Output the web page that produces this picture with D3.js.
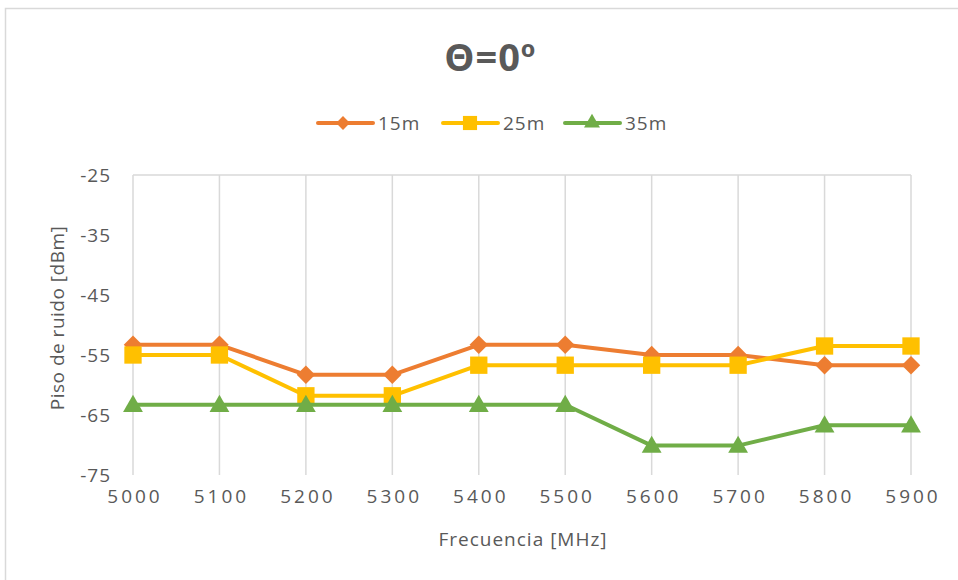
<!DOCTYPE html>
<html>
<head>
<meta charset="utf-8">
<script src="https://cdn.jsdelivr.net/npm/d3@7"></script>
<style>
  html, body { margin: 0; padding: 0; background: #fff; }
  svg { display: block; }
  text { font-family: "Open Sans", "DejaVu Sans", sans-serif; fill: #595959; }
</style>
</head>
<body>
<svg id="chart" width="958" height="580"></svg>
<script>
// Frequencies (MHz) on the category axis
const frequencies = [5000, 5100, 5200, 5300, 5400, 5500, 5600, 5700, 5800, 5900];
// Noise floor (dBm) per distance
const noise15m = [-53.3, -53.3, -58.3, -58.3, -53.3, -53.3, -55.0, -55.0, -56.7, -56.7];
const noise25m = [-55.0, -55.0, -61.8, -61.8, -56.7, -56.7, -56.7, -56.7, -53.5, -53.5];
const noise35m = [-63.3, -63.3, -63.3, -63.3, -63.3, -63.3, -70.1, -70.1, -66.7, -66.7];
const yTicks = [-25, -35, -45, -55, -65, -75];
const seriesNames = ["15m", "25m", "35m"];

const series = [
  { name: seriesNames[0], values: noise15m, color: "#ED7D31", shape: "diamond" },
  { name: seriesNames[1], values: noise25m, color: "#FFC000", shape: "square" },
  { name: seriesNames[2], values: noise35m, color: "#70AD47", shape: "triangle" }
];

const svg = d3.select("#chart");

// outer frame
svg.append("path")
  .attr("d", "M5.5,600 L5.5,8.5 L980,8.5")
  .attr("fill", "none").attr("stroke", "#d9d9d9").attr("stroke-width", 1.5);

const x = d3.scalePoint().domain(frequencies).range([133, 911]);
const y = d3.scaleLinear().domain([-75, -25]).range([475, 175]);

// vertical gridlines
svg.append("g").selectAll("line").data(frequencies).join("line")
  .attr("x1", d => x(d)).attr("x2", d => x(d))
  .attr("y1", y(-25)).attr("y2", y(-75))
  .attr("stroke", "#d9d9d9").attr("stroke-width", 1.5);
// top border of the plot
svg.append("line")
  .attr("x1", x(frequencies[0])).attr("x2", x(frequencies[frequencies.length - 1]))
  .attr("y1", y(-25)).attr("y2", y(-25))
  .attr("stroke", "#d9d9d9").attr("stroke-width", 1.5);

// y axis labels (plain hyphen for negatives)
const yAxis = d3.axisLeft(y).tickValues(yTicks).tickFormat(d => String(d)).tickSize(0).tickPadding(0);
const gy = svg.append("g").attr("transform", "translate(111,0)").call(yAxis);
gy.select(".domain").remove();
gy.selectAll("text")
  .attr("font-family", null).style("font-size", "19px").attr("fill", null)
  .attr("letter-spacing", "1px").attr("dy", "0.36em");

// x axis labels
const xAxis = d3.axisBottom(x).tickFormat(d => String(d)).tickSize(0).tickPadding(0);
const gx = svg.append("g").attr("transform", "translate(1.5,489)").call(xAxis);
gx.select(".domain").remove();
gx.selectAll("text")
  .attr("font-family", null).style("font-size", "19px").attr("fill", null)
  .attr("letter-spacing", "3px").attr("dy", "0.71em");

// axis titles
svg.append("text").attr("x", 523).attr("y", 546).attr("text-anchor", "middle")
  .style("font-size", "19px").attr("letter-spacing", "1px").text("Frecuencia [MHz]");
svg.append("text").attr("transform", "translate(64,318) rotate(-90)")
  .attr("text-anchor", "middle").style("font-size", "19px").attr("letter-spacing", "0.5px")
  .text("Piso de ruido [dBm]");

// chart title; the ordinal sign uses a face that draws its underline
const title = svg.append("text").attr("x", 490).attr("y", 71).attr("text-anchor", "middle")
  .style("font-size", "38px").style("font-weight", "bold").attr("letter-spacing", "1px");
title.append("tspan").text("Θ=0");
title.append("tspan").style("font-family", "'Liberation Sans', sans-serif").text("º");

// symmetric diamond: a square turned 45°
const rotatedSquare = {
  draw(ctx, size) {
    const r = Math.sqrt(size / 2);
    ctx.moveTo(0, -r); ctx.lineTo(r, 0); ctx.lineTo(0, r); ctx.lineTo(-r, 0); ctx.closePath();
  }
};
const symbolType = { diamond: rotatedSquare, square: d3.symbolSquare, triangle: d3.symbolTriangle };
const markerSize = { diamond: 170, square: 300, triangle: 170 };
const legendSize = { diamond: 95, square: 200, triangle: 110 };

const line = d3.line().x((d, i) => x(frequencies[i])).y(d => y(d));

series.forEach(s => {
  const g = svg.append("g");
  g.append("path").datum(s.values)
    .attr("d", line).attr("fill", "none")
    .attr("stroke", s.color).attr("stroke-width", 4).attr("stroke-linejoin", "round");
  g.selectAll("path.m").data(s.values).join("path").attr("class", "m")
    .attr("d", d3.symbol().type(symbolType[s.shape]).size(markerSize[s.shape]))
    .attr("transform", (d, i) => `translate(${x(frequencies[i])},${y(d) + (s.shape === "triangle" ? 1.5 : 0)})`)
    .attr("fill", s.color);
});

// legend
const legendX = [318, 443, 565];
series.forEach((s, i) => {
  const g = svg.append("g").attr("transform", `translate(${legendX[i]},123)`);
  g.append("line").attr("x1", 0).attr("x2", 55).attr("y1", 0).attr("y2", 0)
    .attr("stroke", s.color).attr("stroke-width", 4).attr("stroke-linecap", "round");
  g.append("path")
    .attr("d", d3.symbol().type(symbolType[s.shape]).size(legendSize[s.shape]))
    .attr("transform", `translate(${i === 0 ? 25 : 27},0)`)
    .attr("fill", s.color);
  g.append("text").attr("x", 60).attr("y", 0).attr("dy", "0.36em")
    .style("font-size", "19px").attr("letter-spacing", "1px").text(s.name);
});
</script>
</body>
</html>
